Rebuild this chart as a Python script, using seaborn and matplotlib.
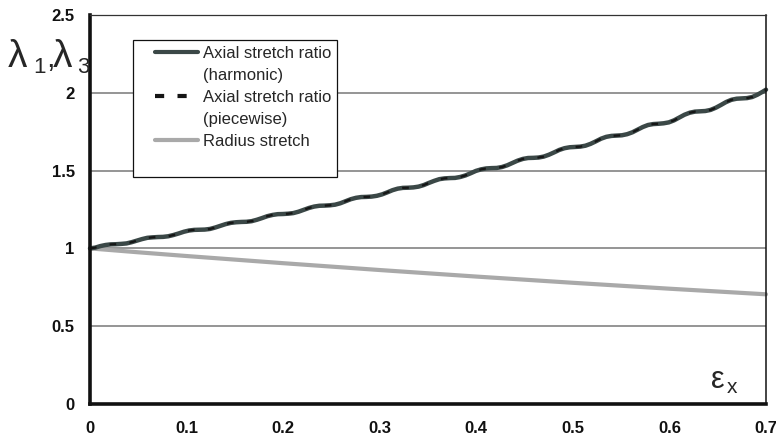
import matplotlib
matplotlib.use("Agg")
import matplotlib.pyplot as plt
from matplotlib.lines import Line2D
from matplotlib.legend_handler import HandlerLine2D
import seaborn as sns
import pandas as pd

# ---------------- data ----------------
harmonic_x = [0, 0.0054, 0.0108, 0.0162, 0.0216, 0.027, 0.0324, 0.0378, 0.0432,
              0.0486, 0.054, 0.0594, 0.0648, 0.0702, 0.0756, 0.081, 0.0864,
              0.0918, 0.0972, 0.1026, 0.108, 0.1134, 0.1188, 0.1242, 0.1296,
              0.135, 0.1404, 0.1458, 0.1512, 0.1566, 0.162, 0.1674, 0.1728,
              0.1782, 0.1836, 0.189, 0.1944, 0.1998, 0.2052, 0.2106, 0.216,
              0.2214, 0.2268, 0.2322, 0.2376, 0.243, 0.2484, 0.2538, 0.2592,
              0.2646, 0.27, 0.2754, 0.2808, 0.2862, 0.2916, 0.297, 0.3024,
              0.3078, 0.3132, 0.3186, 0.324, 0.3294, 0.3348, 0.3402, 0.3456,
              0.351, 0.3564, 0.3618, 0.3672, 0.3726, 0.378, 0.3834, 0.3888,
              0.3942, 0.3996, 0.405, 0.4104, 0.4158, 0.4212, 0.4266, 0.432,
              0.4374, 0.4428, 0.4482, 0.4536, 0.459, 0.4644, 0.4698, 0.4752,
              0.4806, 0.486, 0.4914, 0.4968, 0.5022, 0.5076, 0.513, 0.5184,
              0.5238, 0.5292, 0.5346, 0.54, 0.5454, 0.5508, 0.5562, 0.5616,
              0.567, 0.5724, 0.5778, 0.5832, 0.5886, 0.594, 0.5994, 0.6048,
              0.6102, 0.6156, 0.621, 0.6264, 0.6318, 0.6372, 0.6426, 0.648,
              0.6534, 0.6588, 0.6642, 0.6696, 0.675, 0.6804, 0.6858, 0.6912,
              0.6966, 0.7]
harmonic_y = [1.000, 1.005, 1.015, 1.022, 1.026, 1.027, 1.029, 1.032, 1.040,
              1.050, 1.060, 1.068, 1.071, 1.073, 1.074, 1.078, 1.086,
              1.096, 1.107, 1.115, 1.119, 1.120, 1.121, 1.125, 1.134,
              1.145, 1.156, 1.164, 1.168, 1.170, 1.171, 1.175, 1.184,
              1.195, 1.207, 1.215, 1.220, 1.221, 1.223, 1.227, 1.236,
              1.248, 1.260, 1.269, 1.274, 1.275, 1.277, 1.281, 1.290,
              1.303, 1.316, 1.325, 1.330, 1.331, 1.333, 1.338, 1.347,
              1.360, 1.374, 1.384, 1.389, 1.390, 1.392, 1.397, 1.407,
              1.421, 1.434, 1.445, 1.450, 1.452, 1.453, 1.459, 1.469,
              1.483, 1.498, 1.508, 1.514, 1.516, 1.517, 1.523, 1.534,
              1.549, 1.564, 1.575, 1.581, 1.582, 1.584, 1.590, 1.602,
              1.617, 1.633, 1.644, 1.650, 1.652, 1.654, 1.660, 1.672,
              1.688, 1.705, 1.717, 1.723, 1.725, 1.727, 1.734, 1.746,
              1.763, 1.780, 1.793, 1.799, 1.801, 1.804, 1.810, 1.823,
              1.841, 1.859, 1.872, 1.879, 1.881, 1.883, 1.890, 1.904,
              1.922, 1.941, 1.955, 1.962, 1.964, 1.966, 1.973, 1.988,
              2.007, 2.020]

# piecewise approximation coincides with the harmonic curve in the picture
piecewise_x = list(harmonic_x)
piecewise_y = list(harmonic_y)

radius_x = [0, 0.05, 0.1, 0.15, 0.2, 0.25, 0.3, 0.35, 0.4, 0.45, 0.5, 0.55,
            0.6, 0.65, 0.7]
radius_y = [1.000, 0.975, 0.951, 0.928, 0.905, 0.883, 0.861, 0.840, 0.819,
            0.799, 0.779, 0.760, 0.741, 0.723, 0.705]

x_ticks = [0, 0.1, 0.2, 0.3, 0.4, 0.5, 0.6, 0.7]
x_tick_labels = ["0", "0.1", "0.2", "0.3", "0.4", "0.5", "0.6", "0.7"]
y_ticks = [0, 0.5, 1, 1.5, 2, 2.5]
y_tick_labels = ["0", "0.5", "1", "1.5", "2", "2.5"]

legend_labels = ["Axial stretch ratio", "(harmonic)",
                 "Axial stretch ratio", "(piecewise)",
                 "Radius stretch", " "]

# ---------------- style ----------------
sns.set_style("white")
plt.rcParams["font.family"] = ["Liberation Sans", "DejaVu Sans"]

W, H = 776, 441
fig = plt.figure(figsize=(W / 100, H / 100), dpi=100)
ax = fig.add_axes([90 / W, 37 / H, 676 / W, 389 / H])

c_harm = "#3b4847"
c_piece = "#151515"
c_rad = "#a9a9a9"

df_h = pd.DataFrame({"x": harmonic_x, "y": harmonic_y})
df_p = pd.DataFrame({"x": piecewise_x, "y": piecewise_y})
df_r = pd.DataFrame({"x": radius_x, "y": radius_y})

sns.lineplot(data=df_r, x="x", y="y", ax=ax, color=c_rad, lw=3.0,
             estimator=None, sort=False, clip_on=False, zorder=3)
sns.lineplot(data=df_h, x="x", y="y", ax=ax, color=c_harm, lw=3.2,
             estimator=None, sort=False, clip_on=False, zorder=4)
sns.lineplot(data=df_p, x="x", y="y", ax=ax, color=c_piece, lw=1.6,
             estimator=None, sort=False, clip_on=False, zorder=5,
             dashes=False, linestyle=(0, (3, 6)))

ax.set_xlim(0, 0.7)
ax.set_ylim(0, 2.5)
ax.set_xticks(x_ticks)
ax.set_xticklabels(x_tick_labels)
ax.set_yticks(y_ticks)
ax.set_yticklabels(y_tick_labels)
ax.set_xlabel("")
ax.set_ylabel("")

ax.yaxis.grid(True, color="#8c8c8c", lw=1.3)
ax.xaxis.grid(False)
ax.set_axisbelow(True)

ax.tick_params(axis="both", direction="out", length=4, width=2.5,
               color="#111111", labelsize=12, labelcolor="#111111")
ax.tick_params(axis="x", pad=8)
ax.tick_params(axis="y", pad=7)
for lab in ax.get_xticklabels() + ax.get_yticklabels():
    lab.set_fontweight("bold")

for side in ["left", "bottom"]:
    ax.spines[side].set_linewidth(2.6)
    ax.spines[side].set_color("#111111")
ax.spines["top"].set_linewidth(0.9)
ax.spines["top"].set_color("#333333")
ax.spines["right"].set_linewidth(1.1)
ax.spines["right"].set_color("#111111")
for s in ax.spines.values():
    s.set_visible(True)
    s.set_zorder(6)

# ---------------- legend ----------------
blank = Line2D([], [], color="none")
handles = [Line2D([], [], color=c_harm, lw=3.0), blank,
           Line2D([], [], color=c_piece, lw=3.0, linestyle=(0, (2.2, 3.2))), blank,
           Line2D([], [], color=c_rad, lw=3.0), blank]
leg = ax.legend(handles, legend_labels, loc="upper left",
                bbox_to_anchor=(43 / 676, (404 - 40) / 389),
                frameon=True, fancybox=False, edgecolor="#111111",
                framealpha=1, fontsize=12, handlelength=3.55,
                handletextpad=0.3, labelspacing=0.42, borderpad=0.35,
                borderaxespad=0,
                handler_map={Line2D: HandlerLine2D(xpad=0.95)})
leg.get_frame().set_linewidth(0.9)
leg.set_zorder(7)

# ---------------- axis labels (as in the reference) ----------------
def px(x, y):
    return x / W, 1 - y / H

lab_kw = dict(va="baseline", ha="left", color="#262626")
fig.text(*px(8, 67), "\u03bb", fontsize=28, **lab_kw)
fig.text(*px(33, 73), "1", fontsize=16, **lab_kw)
fig.text(*px(46, 67), ",", fontsize=22, **lab_kw)
fig.text(*px(53, 67), "\u03bb", fontsize=28, **lab_kw)
fig.text(*px(77, 73), "3", fontsize=16, **lab_kw)

fig.text(*px(711, 388), "\u03b5", fontsize=22, **lab_kw)
fig.text(*px(727, 393), "x", fontsize=15, **lab_kw)

fig.savefig("out.png", dpi=100)
